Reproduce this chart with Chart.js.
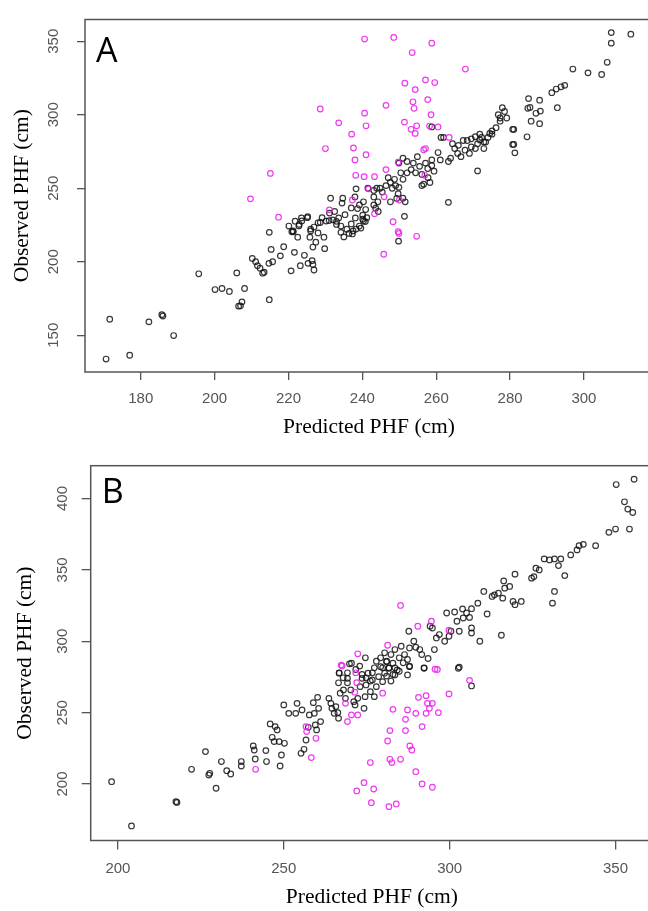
<!DOCTYPE html>
<html>
<head>
<meta charset="utf-8">
<script src="https://cdn.jsdelivr.net/npm/chart.js@4.4.1/dist/chart.umd.min.js"></script>
<style>
  html, body { margin: 0; padding: 0; background: #fff; overflow: hidden; width: 648px; height: 911px; }
  canvas { position: absolute; left: 0; }
  #panelA { top: 0; }
  #panelB { top: 448px; }
</style>
</head>
<body>
<canvas id="panelA" width="680" height="448"></canvas>
<canvas id="panelB" width="680" height="463"></canvas>
<script>
// tick labels
const aTicksX = [180, 200, 220, 240, 260, 280, 300];
const aTicksY = [150, 200, 250, 300, 350];
const bTicksX = [200, 250, 300, 350];
const bTicksY = [200, 250, 300, 350, 400];

// panel A: [predicted, observed]
const aBlack = [
  [170.6,133.8],[171.6,160.9],[177.0,136.4],[182.2,159.1],[185.7,164.0],[186.0,163.1],[188.9,149.8],
  [195.7,191.8],[200.1,181.1],[202.0,181.8],[204.0,179.8],[208.1,181.8],[206.0,192.4],[206.5,169.8],
  [207.0,170.0],[207.4,172.7],[214.8,174.2],[210.2,202.2],[211.1,200.0],[211.6,197.3],[212.3,195.6],
  [213.0,192.2],[213.4,192.9],[214.8,220.0],[215.3,208.4],[214.7,198.9],[215.7,200.0],[217.8,204.0],
  [218.7,210.2],[220.7,193.8],[221.6,206.4],[220.9,220.4],[221.3,220.4],[222.5,216.7],[223.2,197.3],
  [222.8,224.4],[223.6,227.8],[225.1,230.0],[224.3,204.4],[225.3,198.9],[226.0,222.2],[225.8,216.7],
  [226.4,200.7],[226.6,198.2],[226.9,194.4],[226.6,210.0],[227.4,213.3],[228.0,219.6],[228.6,226.7],
  [229.6,216.7],[229.8,208.9],[229.1,230.0],[231.0,228.0],[232.0,228.5],[233.0,227.5],[234.2,220.0],
  [235.0,216.9],[236.4,219.3],[237.3,218.9],[238.3,222.2],[239.6,222.9],[240.1,228.9],[240.8,227.3],
  [241.2,230.0],[249.8,214.0],
  [263.3,240.4],[271.2,261.8],[261.3,284.6],[262.0,284.6],[258.8,291.7],[264.4,280.3],[265.0,277.0],
  [266.0,279.2],[267.3,282.5],[268.4,282.5],[269.5,283.6],[270.6,285.1],[271.8,286.8],[272.3,284.6],
  [272.9,281.4],[271.8,282.9],[274.5,287.3],[276.2,291.2],[277.3,295.6],[277.9,304.8],[276.8,300.0],
  [278.5,302.2],[279.1,297.8],[275.1,289.0],[265.8,273.7],[266.7,271.5],[263.9,270.4],[263.3,268.2],
  [260.5,274.3],[261.1,269.3],[258.8,269.3],[257.1,267.1],[257.7,263.4],[258.8,265.4],[259.4,261.6],
  [254.9,271.5],[255.5,264.9],[253.8,267.1],[253.2,262.7],[251.0,270.4],[249.9,267.1],[252.1,268.2],
  [254.4,260.5],[256.1,259.4],[256.6,252.8],[257.8,257.2],[258.3,253.9],[256.1,251.8],[252.1,260.5],
  [251.0,256.1],[249.9,250.6],[250.4,260.5],[248.7,256.1],[249.0,251.8],[248.1,250.0],[247.6,254.0],
  [247.0,257.2],[246.4,251.8],[245.4,247.4],[244.8,250.0],[243.9,250.0],[243.1,248.5],[241.5,250.0],
  [238.3,249.6],[243.1,244.1],[244.2,240.8],[247.6,240.8],[249.3,243.1],[251.6,240.8],[249.7,246.3],
  [251.0,243.2],[240.3,240.8],[239.2,238.6],[238.0,244.1],[243.1,238.6],[243.6,236.4],[244.3,234.2],
  [234.7,243.2],[231.4,243.2],[234.5,239.9],[237.0,236.6],[238.7,236.2],[240.1,231.7],[240.9,235.5],
  [240.3,227.7],[239.2,224.3],[238.1,229.8],[237.0,225.7],[235.3,232.0],[233.6,229.8],[232.5,234.2],
  [231.1,233.1],[230.2,227.7],[233.0,225.4],[234.2,224.3],[235.8,222.1],[237.5,221.0],[228.0,226.5],
  [225.2,230.7],[223.5,229.8],[221.8,227.6],[220.1,224.3],[221.2,221.0],[222.9,225.4],[226.0,221.0],
  [226.9,223.6],[251.4,230.9],[280.7,290.1],[281.3,274.1],[281.0,279.8],[277.3,297.8],[275.1,286.8],
  [274.0,284.6],[273.4,281.4],[271.2,280.3],[269.5,278.1],[267.8,275.9],[269.0,273.7],[270.6,277.0],
  [272.9,277.0],
  [307.4,355.9],[312.7,354.8],[307.4,348.7],[306.3,335.7],[297.0,331.1],[301.1,328.5],[304.8,327.4],
  [291.3,315.0],[292.5,317.5],[293.8,319.0],[294.8,320.0],[288.0,309.9],[285.0,311.0],[285.4,305.0],
  [287.0,301.0],[288.2,302.5],[284.8,304.4],[288.0,293.9],[285.7,295.6],[292.8,304.8],[284.6,285.0],
  [281.0,290.0],[280.7,279.8]
];
const aMagenta = [
  [240.6,351.5],[248.5,352.6],[258.8,348.7],[253.5,342.3],[267.9,331.1],[251.5,321.5],[257.1,323.7],
  [259.6,321.9],[254.3,317.1],[253.7,308.8],[257.7,310.3],[254.0,304.4],[228.6,303.9],[246.4,306.4],
  [240.6,301.1],[258.6,300.0],[233.6,294.5],[241.0,292.5],[251.4,295.0],[254.7,292.5],[253.2,290.1],
  [254.3,287.3],[258.2,292.3],[260.5,291.7],[237.1,286.8],[263.5,284.6],[230.0,277.0],[237.6,277.4],
  [241.0,272.8],[238.0,269.3],[257.1,277.0],[256.6,276.2],[215.1,260.1],[238.2,258.8],[240.5,257.9],
  [243.3,257.9],[246.4,262.7],[249.7,267.8],[256.9,258.8],[209.7,242.8],[237.3,242.0],[245.9,244.2],
  [250.0,242.0],[241.7,249.6],[217.3,230.3],[231.1,235.3],[243.3,232.7],[248.3,227.2],[249.7,220.4],
  [249.9,219.3],[254.7,217.3],[245.8,205.1]
];

// panel B: [predicted, observed]
const bBlack = [
  [355.6,413.5],[350.2,409.8],[352.7,397.7],[353.7,392.6],[355.2,390.2],[354.2,378.6],[350.0,378.6],
  [348.0,376.3],[344.0,367.0],[340.3,367.9],[339.0,367.0],[338.4,364.0],[336.5,360.5],[332.8,353.0],
  [334.7,346.0],[333.5,357.7],[331.6,357.7],[330.1,357.0],[328.5,357.7],[327.0,350.0],[326.0,351.2],
  [324.7,344.2],[325.4,345.3],[331.6,334.9],[331.0,326.7],[319.7,347.0],[318.1,338.4],[316.3,342.3],
  [316.6,337.2],[314.7,333.7],[312.8,331.4],[313.5,332.5],[310.3,334.9],[311.3,319.1],[315.6,304.2],
  [319.1,327.9],[319.7,325.6],[321.6,327.9],[316.0,330.2],[308.5,326.7],[306.6,322.8],[305.1,319.8],
  [306.0,316.7],[303.9,322.6],[299.1,319.8],[301.5,320.5],[304.1,316.3],[302.2,314.0],[306.6,309.3],
  [306.6,305.8],[309.1,300.0],[302.9,307.0],[300.4,307.0],[299.8,303.5],[298.5,300.0],[296.9,304.7],
  [296.0,302.3],[295.4,294.2],[294.1,310.5],[294.8,309.3],[302.9,281.9],[289.2,300.0],[289.8,295.8],
  [291.0,294.2],[291.6,290.7],[293.5,287.9],[292.3,281.4],[287.9,295.3],[287.7,307.0],[285.4,296.5],
  [286.4,290.7],[284.8,288.4],[287.3,287.2],[286.0,284.9],[287.9,282.6],[283.5,294.2],[282.3,290.7],
  [281.0,286.0],[280.4,291.9],[279.2,288.4],[277.9,286.0],[277.3,281.4],[279.8,281.4],[281.7,281.4],
  [283.5,281.4],[284.8,279.0],[282.9,276.7],[281.0,275.6],[282.3,272.1],[276.7,277.9],[274.6,288.4],
  [272.9,282.6],[271.7,280.2],[269.8,284.2],[273.6,276.7],[274.8,274.4],[276.1,272.1],[269.2,277.9],
  [267.9,274.4],[266.7,277.9],[266.5,270.9],[269.2,270.9],
  [198.1,201.6],[204.1,170.6],[217.5,187.6],[217.8,187.1],[222.2,210.3],[226.4,222.7],[227.4,206.3],
  [227.7,207.5],[229.6,197.0],[231.2,215.7],[232.8,209.3],[234.0,207.0],[237.2,215.7],[237.2,212.6],
  [240.8,226.6],[241.1,223.8],[241.4,217.5],[244.6,223.4],[244.8,215.7],[245.9,242.1],[246.5,232.7],
  [247.4,240.2],[248.0,237.9],[247.1,229.7],[248.6,229.7],[249.3,220.3],[248.9,212.6],[250.2,228.5],
  [250.0,255.4],[251.5,249.5],[254.0,256.5],[253.6,249.5],[255.5,251.9],[255.2,221.5],[256.1,224.3],
  [256.7,230.8],[257.4,239.7],[257.7,248.4],[258.9,257.0],[259.2,249.5],[259.5,241.4],[260.2,260.7],
  [260.5,253.0],[259.9,237.9],[261.1,243.7],[263.6,260.0],[264.2,256.5],[264.5,253.0],[265.2,249.5],
  [265.7,254.2],[266.5,246.0],[266.3,250.0],[266.7,277.6],[267.0,263.6],[268.6,260.0],[268.0,265.9],
  [269.2,274.0],[270.4,284.6],[270.2,265.9],[271.1,257.7],[271.5,255.4],[272.3,260.0],[273.0,268.2],
  [273.6,274.0],[274.2,253.0],[274.5,261.2],[274.8,269.4],[275.4,277.6],[276.1,264.7],[276.7,272.9],
  [277.3,261.2],[277.9,268.2],[278.6,275.2],[279.2,282.2],[279.8,271.7],[280.4,277.6],[281.0,285.7],
  [281.7,281.1],[282.9,284.6],[283.5,276.4],[284.2,279.9],[287.3,276.4],[287.9,282.2],[292.3,281.1],
  [302.6,281.1],[306.6,268.7]
];
const bMagenta = [
  [285.2,325.1],[290.4,310.5],[294.5,314.0],[299.8,307.7],[281.3,297.2],[272.3,291.2],[267.3,283.3],
  [296.3,280.2],[306.0,272.6],[271.7,277.9],[267.6,282.7],[272.0,271.0],[271.4,264.3],[268.6,256.5],
  [270.4,248.4],[272.3,248.4],[269.2,243.7],[279.8,263.6],[282.9,252.3],[287.3,251.9],[289.8,249.5],
  [292.9,249.5],[290.6,260.7],[292.9,261.9],[294.8,256.5],[293.3,256.5],[293.9,253.0],[296.6,250.0],
  [295.6,280.4],[299.8,263.1],[286.7,245.3],[291.7,240.2],[282.0,237.4],[286.7,237.4],[281.3,230.1],
  [288.0,226.6],[288.6,223.8],[282.0,217.3],[282.6,215.0],[285.2,217.3],[276.1,215.0],[289.8,208.6],
  [274.2,200.9],[272.0,195.1],[277.1,196.5],[291.7,200.0],[294.8,197.7],[276.4,186.9],[281.7,184.1],
  [283.9,186.0],[256.7,240.2],[256.9,236.7],[259.7,232.0],[258.3,218.5],[241.5,210.3]
];

// box round the plot + panel letter
const boxPlugin = {
  id: 'box',
  beforeDatasetsDraw(chart, args, opts) {
    const { ctx, chartArea: a } = chart;
    ctx.save();
    ctx.strokeStyle = '#555';
    ctx.lineWidth = 1.5;
    ctx.strokeRect(a.left, a.top, a.right - a.left, a.bottom - a.top);
    ctx.fillStyle = '#000';
    ctx.font = '34px "Open Sans"';
    ctx.textBaseline = 'alphabetic';
    ctx.fillText(opts.letter, a.left + 11, a.top + opts.letterY);
    ctx.restore();
  }
};

const toXY = arr => arr.map(p => ({ x: p[0], y: p[1] }));

function makePanel(id, p) {
  const ctx = document.getElementById(id).getContext('2d');
  new Chart(ctx, {
    type: 'scatter',
    data: {
      datasets: [{
        data: toXY(p.magenta),
        borderColor: 'rgba(238, 34, 238, 0.9)',
        backgroundColor: 'transparent',
        borderWidth: 1.2,
        pointRadius: 2.8,
      }, {
        data: toXY(p.black),
        borderColor: 'rgba(20, 20, 20, 0.85)',
        backgroundColor: 'transparent',
        borderWidth: 1.2,
        pointRadius: 2.8,
      }]
    },
    plugins: [boxPlugin],
    options: {
      responsive: false,
      animation: false,
      layout: { padding: { left: 0, top: p.top, right: 27, bottom: 0 } },
      plugins: {
        legend: { display: false },
        tooltip: { enabled: false },
        box: { letter: p.letter, letterY: p.letterY }
      },
      scales: {
        x: {
          type: 'linear',
          min: p.xMin,
          max: p.xMax,
          afterBuildTicks: s => { s.ticks = p.xTicks.map(v => ({ value: v })); },
          afterFit: s => { s.height = p.xHeight; },
          border: { display: false },
          grid: { drawOnChartArea: false, tickLength: p.tickLen, tickColor: '#555', lineWidth: 1.3 },
          ticks: { color: '#555', font: { family: 'Liberation Sans', size: 15 }, padding: p.xPad, maxRotation: 0, autoSkip: false },
          title: {
            display: true,
            text: 'Predicted PHF (cm)',
            color: '#000',
            font: { family: 'Liberation Serif', size: 21.5 },
            padding: { top: 0, bottom: p.xTitlePad }
          }
        },
        y: {
          type: 'linear',
          min: p.yMin,
          max: p.yMax,
          afterBuildTicks: s => { s.ticks = p.yTicks.map(v => ({ value: v })); },
          afterFit: s => { s.width = p.yWidth; },
          border: { display: false },
          grid: { drawOnChartArea: false, tickLength: p.tickLen, tickColor: '#555', lineWidth: 1.3 },
          ticks: {
            color: '#555', font: { family: 'Liberation Sans', size: 15 },
            padding: p.yPad, minRotation: 90, maxRotation: 90, crossAlign: 'center', autoSkip: false
          },
          title: {
            display: true,
            text: 'Observed PHF (cm)',
            color: '#000',
            font: { family: 'Liberation Serif', size: 21.5 },
            padding: { top: p.yTitlePad, bottom: 0 }
          }
        }
      }
    }
  });
}

makePanel('panelA', {
  black: aBlack, magenta: aMagenta, letter: 'A', letterY: 42,
  xMin: 164.9, xMax: 318.7, yMin: 125, yMax: 364.8,
  xTicks: aTicksX, yTicks: aTicksY,
  top: 8, xHeight: 76, yWidth: 85, tickLen: 8,
  xPad: 10, xTitlePad: 8, yPad: 10.5, yTitlePad: 9
});

makePanel('panelB', {
  black: bBlack, magenta: bMagenta, letter: 'B', letterY: 37,
  xMin: 191.8, xMax: 361.3, yMin: 160.4, yMax: 423,
  xTicks: bTicksX, yTicks: bTicksY,
  top: 17.7, xHeight: 70.5, yWidth: 90.7, tickLen: 9,
  xPad: 10.5, xTitlePad: 1, yPad: 6.7, yTitlePad: 12
});
</script>
</body>
</html>
